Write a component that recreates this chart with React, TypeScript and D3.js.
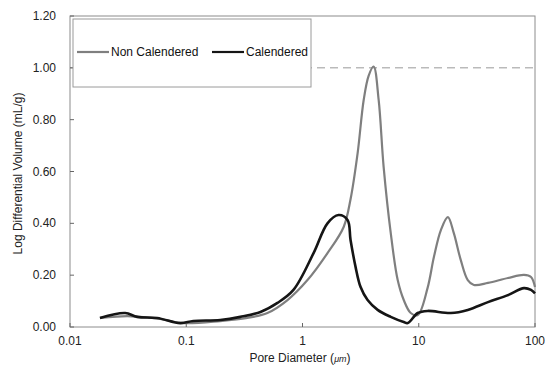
import React, { useEffect, useRef } from "react";
import * as d3 from "d3";

// pore diameter (um) and log differential volume (mL/g)
const calDiam = [0.0181, 0.0298, 0.0378, 0.0562, 0.0888, 0.115, 0.196, 0.292, 0.435, 0.609, 0.836, 1.245, 1.64, 2.04, 2.44, 2.59, 2.86, 3.16, 3.63, 4.43, 5.74, 7.43, 8.04, 9.8, 11.9, 18.9, 26.4, 39.4, 58.5, 80.4, 92.4, 100];
const calValue = [0.035, 0.054, 0.039, 0.035, 0.015, 0.023, 0.027, 0.039, 0.058, 0.093, 0.143, 0.285, 0.4, 0.432, 0.413, 0.336, 0.232, 0.154, 0.104, 0.066, 0.039, 0.019, 0.015, 0.054, 0.062, 0.054, 0.066, 0.096, 0.123, 0.15, 0.143, 0.13];

const nonDiam = [0.0181, 0.031, 0.04, 0.0597, 0.0942, 0.196, 0.336, 0.499, 0.743, 1.104, 1.64, 2.26, 2.59, 2.98, 3.36, 3.71, 4.09, 4.52, 4.99, 5.74, 6.59, 7.43, 8.53, 9.8, 11.9, 13.5, 15.5, 17.8, 20.0, 23.0, 26.4, 29.8, 39.4, 58.5, 80.4, 92.4, 100];
const nonValue = [0.035, 0.042, 0.039, 0.031, 0.015, 0.023, 0.035, 0.054, 0.104, 0.181, 0.285, 0.386, 0.493, 0.671, 0.876, 0.97, 1.005, 0.876, 0.617, 0.363, 0.181, 0.104, 0.054, 0.046, 0.15, 0.27, 0.374, 0.424, 0.363, 0.258, 0.181, 0.162, 0.17, 0.189, 0.201, 0.193, 0.154];

const xTicks = [0.01, 0.1, 1, 10, 100];
const xTickLabels = ["0.01", "0.1", "1", "10", "100"];
const yTicks = [0, 0.2, 0.4, 0.6, 0.8, 1.0, 1.2];

const seriesNames = ["Non Calendered", "Calendered"];

const W = 556;
const H = 378;
const left = 70, right = 535, top = 16, bottom = 327;

export default function App() {
  const ref = useRef<SVGSVGElement | null>(null);

  useEffect(() => {
    const svg = d3.select(ref.current);
    svg.selectAll("*").remove();

    const x = d3.scaleLog().domain([0.01, 100]).range([left, right]);
    const y = d3.scaleLinear().domain([0, 1.2]).range([bottom, top]);
    const font = "Liberation Sans, Arial, sans-serif";

    svg.append("rect").attr("width", W).attr("height", H).attr("fill", "#fff");

    // dashed gridline at 1.00
    svg.append("line")
      .attr("x1", left).attr("x2", right)
      .attr("y1", y(1)).attr("y2", y(1))
      .attr("stroke", "#999").attr("stroke-width", 1)
      .attr("stroke-dasharray", "8,5");

    // plot frame
    svg.append("rect")
      .attr("x", left).attr("y", top)
      .attr("width", right - left).attr("height", bottom - top)
      .attr("fill", "none").attr("stroke", "#8c8c8c").attr("stroke-width", 1);

    // ticks
    svg.selectAll(".yt").data(yTicks).enter().append("line")
      .attr("x1", left).attr("x2", left + 4)
      .attr("y1", d => y(d)).attr("y2", d => y(d))
      .attr("stroke", "#666");
    svg.selectAll(".xt").data(xTicks).enter().append("line")
      .attr("x1", d => x(d)).attr("x2", d => x(d))
      .attr("y1", bottom).attr("y2", bottom - 4)
      .attr("stroke", "#666");

    // tick labels
    svg.selectAll(".yl").data(yTicks).enter().append("text")
      .attr("x", left - 14).attr("y", d => y(d) + 4)
      .attr("text-anchor", "end")
      .attr("font-family", font).attr("font-size", 12)
      .attr("fill", "#222")
      .text(d => d.toFixed(2));
    svg.selectAll(".xl").data(xTicks).enter().append("text")
      .attr("x", d => x(d)).attr("y", 345)
      .attr("text-anchor", "middle")
      .attr("font-family", font).attr("font-size", 12)
      .attr("fill", "#222")
      .text((d, i) => xTickLabels[i]);

    // axis titles
    svg.append("text")
      .attr("transform", `translate(22,${(top + bottom) / 2 + 2}) rotate(-90)`)
      .attr("text-anchor", "middle")
      .attr("font-family", font).attr("font-size", 12)
      .attr("fill", "#222")
      .text("Log Differential Volume (mL/g)");
    const xt = svg.append("text")
      .attr("x", 300).attr("y", 362)
      .attr("text-anchor", "middle")
      .attr("font-family", font).attr("font-size", 12)
      .attr("fill", "#222");
    xt.append("tspan").text("Pore Diameter (");
    xt.append("tspan").attr("font-style", "italic").attr("font-size", 9).text("\u03bcm");
    xt.append("tspan").text(")");

    const line = d3.line<[number, number]>()
      .x(d => x(d[0]))
      .y(d => y(d[1]))
      .curve(d3.curveCatmullRom.alpha(0.5));

    const nonPts = nonDiam.map((d, i) => [d, nonValue[i]] as [number, number]);
    const calPts = calDiam.map((d, i) => [d, calValue[i]] as [number, number]);

    svg.append("path").attr("d", line(nonPts))
      .attr("fill", "none").attr("stroke", "#7f7f7f").attr("stroke-width", 2.2);
    svg.append("path").attr("d", line(calPts))
      .attr("fill", "none").attr("stroke", "#151515").attr("stroke-width", 2.6);

    // legend
    svg.append("rect")
      .attr("x", 73).attr("y", 19).attr("width", 238).attr("height", 68)
      .attr("fill", "#fff").attr("stroke", "#9a9a9a").attr("stroke-width", 1);
    const legend = [
      { x0: 77, color: "#7f7f7f", sw: 2.2 },
      { x0: 212, color: "#151515", sw: 2.2 },
    ];
    legend.forEach((l, i) => {
      svg.append("line")
        .attr("x1", l.x0).attr("x2", l.x0 + 32)
        .attr("y1", 52).attr("y2", 52)
        .attr("stroke", l.color).attr("stroke-width", l.sw);
      svg.append("text")
        .attr("x", l.x0 + 34).attr("y", 56)
        .attr("font-family", font).attr("font-size", 12)
        .attr("fill", "#111")
        .text(seriesNames[i]);
    });
  }, []);

  return (
    <svg ref={ref} width={W} height={H} style={{ position: "absolute", left: 0, top: 0 }} />
  );
}
